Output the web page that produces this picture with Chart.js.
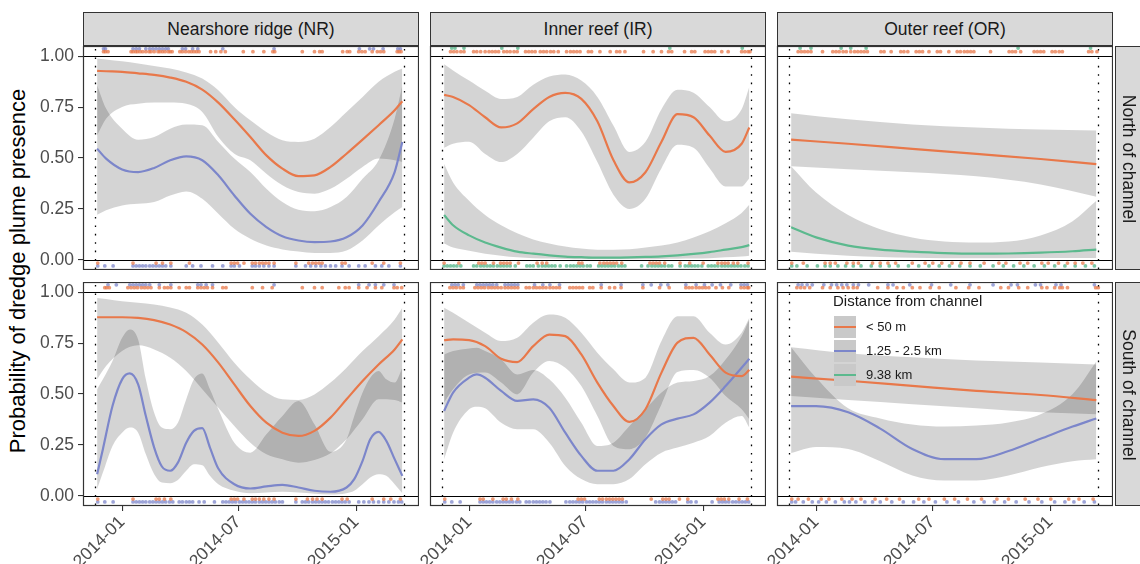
<!DOCTYPE html>
<html>
<head>
<meta charset="utf-8">
<script src="https://cdn.jsdelivr.net/npm/chart.js@4.4.1/dist/chart.umd.min.js"></script>
<style>
  body { margin: 0; width: 1140px; height: 564px; overflow: hidden; background: #fff; position: relative;
         font-family: "Liberation Sans", Arial, sans-serif; }
  canvas { position: absolute; }
  .strip { position: absolute; box-sizing: border-box; background: #d9d9d9; border: 1px solid #333;
           color: #1a1a1a; font-size: 17.5px; text-align: center; }
  .vtext { position: absolute; white-space: nowrap; transform: rotate(90deg); text-align: center; }
  #ytitle { position: absolute; left: -232px; top: 259px; width: 500px; text-align: center;
            font-size: 22px; line-height: 24px; transform: rotate(-90deg); color: #000; }
  .lgkey { position: absolute; width: 22px; height: 22px; background: #c9c9c9; }
  .lgkey i { position: absolute; left: 0; right: 0; top: 10px; height: 2px; }
  .lglab { position: absolute; font-size: 13px; color: #1a1a1a; }
</style>
</head>
<body>
<div id="ytitle">Probability of dredge plume presence</div>
<div id="frame"></div>
<script>
// facets and axes
const regions = ['Nearshore ridge (NR)', 'Inner reef (IR)', 'Outer reef (OR)'];
const sides = ['North of channel', 'South of channel'];
const groupLabels = ['< 50 m', '1.25 - 2.5 km', '9.38 km'];
const groupColors = ['#e8784a', '#7c86ca', '#5cb98e'];
const rugColors = ['rgba(232,120,74,0.75)', 'rgba(124,134,202,0.75)', 'rgba(92,185,142,0.8)'];

// x values are days since 2014-01-01
const xMinDay = -61, xMaxDay = 463;
const xTickDays = [0, 181, 365];
const xTickLabels = ['2014-01', '2014-07', '2015-01'];
const yTicks = [0, 0.25, 0.5, 0.75, 1];
const dredgeStart = -43, dredgeEnd = 439;

// curve grids
const gridDays = [-39, -25, 0, 25, 50, 75, 100, 125, 150, 175, 200, 225, 250, 275, 300, 325, 350, 375, 400, 425, 437];
const fineDays = [-39, -30, -15, 0, 12, 25, 37, 50, 62, 75, 87, 100, 112, 125, 137, 150, 175, 200, 225, 250, 275, 300, 325, 350, 362, 375, 387, 400, 412, 425, 437];
const irSouthMidDays = [-39, -25, 0, 12, 25, 50, 75, 100, 125, 150, 175, 200, 225, 250, 275, 300, 325, 350, 375, 400, 425, 437];
const orLineDays = [-39, 50, 150, 250, 350, 437];
const orCurveDays = [-39, 0, 50, 100, 150, 200, 250, 300, 350, 400, 437];

// NR north
const nrNorthNearFit = [0.928, 0.926, 0.923, 0.916, 0.908, 0.895, 0.874, 0.836, 0.772, 0.690, 0.603, 0.513, 0.448, 0.411, 0.415, 0.456, 0.521, 0.590, 0.661, 0.734, 0.779];
const nrNorthNearHi = [0.989, 0.984, 0.975, 0.964, 0.952, 0.939, 0.920, 0.890, 0.833, 0.751, 0.685, 0.628, 0.587, 0.579, 0.595, 0.652, 0.726, 0.800, 0.874, 0.923, 0.939];
const nrNorthNearLo = [0.611, 0.693, 0.751, 0.766, 0.772, 0.772, 0.766, 0.726, 0.603, 0.521, 0.489, 0.423, 0.366, 0.333, 0.325, 0.349, 0.398, 0.456, 0.497, 0.489, 0.480];
const nrNorthMidFit = [0.546, 0.497, 0.444, 0.431, 0.451, 0.489, 0.508, 0.489, 0.415, 0.316, 0.226, 0.161, 0.116, 0.095, 0.087, 0.090, 0.111, 0.169, 0.284, 0.431, 0.579];
const nrNorthMidHi = [0.857, 0.743, 0.644, 0.590, 0.603, 0.644, 0.664, 0.661, 0.579, 0.497, 0.431, 0.349, 0.284, 0.246, 0.239, 0.259, 0.308, 0.398, 0.489, 0.693, 0.857];
const nrNorthMidLo = [0.221, 0.243, 0.267, 0.275, 0.284, 0.316, 0.336, 0.300, 0.226, 0.152, 0.103, 0.070, 0.051, 0.041, 0.034, 0.034, 0.046, 0.095, 0.169, 0.234, 0.259];

// NR south
const nrSouthNearFit = [0.877, 0.877, 0.877, 0.874, 0.863, 0.841, 0.804, 0.743, 0.654, 0.547, 0.441, 0.359, 0.310, 0.294, 0.319, 0.384, 0.474, 0.564, 0.645, 0.719, 0.768];
const nrSouthNearHi = [0.972, 0.967, 0.956, 0.948, 0.940, 0.925, 0.899, 0.841, 0.752, 0.654, 0.572, 0.507, 0.474, 0.471, 0.498, 0.556, 0.629, 0.711, 0.784, 0.866, 0.923];
const nrSouthNearLo = [0.572, 0.637, 0.711, 0.739, 0.719, 0.678, 0.613, 0.523, 0.433, 0.343, 0.261, 0.204, 0.180, 0.163, 0.176, 0.209, 0.278, 0.376, 0.474, 0.471, 0.458];
const nrSouthMidFit = [0.106, 0.229, 0.441, 0.572, 0.601, 0.547, 0.392, 0.237, 0.144, 0.123, 0.163, 0.261, 0.319, 0.332, 0.237, 0.134, 0.057, 0.036, 0.046, 0.054, 0.041, 0.025, 0.020, 0.041, 0.082, 0.172, 0.278, 0.314, 0.270, 0.180, 0.098];
const nrSouthMidHi = [0.523, 0.572, 0.662, 0.776, 0.817, 0.768, 0.572, 0.408, 0.335, 0.327, 0.359, 0.474, 0.572, 0.601, 0.523, 0.425, 0.261, 0.212, 0.302, 0.392, 0.466, 0.351, 0.216, 0.278, 0.392, 0.507, 0.580, 0.613, 0.572, 0.556, 0.629];
const nrSouthMidLo = [0.033, 0.114, 0.245, 0.310, 0.335, 0.310, 0.204, 0.106, 0.065, 0.062, 0.078, 0.123, 0.155, 0.150, 0.098, 0.057, 0.025, 0.013, 0.016, 0.020, 0.016, 0.010, 0.007, 0.013, 0.025, 0.057, 0.090, 0.106, 0.098, 0.057, 0.013];

// IR north
const irNorthNearFit = [0.81, 0.80, 0.76, 0.70, 0.65, 0.67, 0.74, 0.80, 0.82, 0.79, 0.68, 0.49, 0.38, 0.43, 0.58, 0.715, 0.70, 0.61, 0.53, 0.57, 0.65];
const irNorthNearHi = [0.96, 0.93, 0.88, 0.83, 0.79, 0.80, 0.86, 0.90, 0.91, 0.88, 0.80, 0.66, 0.53, 0.58, 0.74, 0.835, 0.82, 0.75, 0.68, 0.74, 0.85];
const irNorthNearLo = [0.55, 0.57, 0.58, 0.52, 0.48, 0.52, 0.60, 0.68, 0.70, 0.63, 0.48, 0.32, 0.25, 0.30, 0.45, 0.565, 0.55, 0.45, 0.36, 0.36, 0.40];
const irNorthFarFit = [0.22, 0.17, 0.12, 0.085, 0.06, 0.04, 0.03, 0.022, 0.016, 0.013, 0.011, 0.011, 0.012, 0.014, 0.017, 0.022, 0.029, 0.038, 0.05, 0.062, 0.072];
const irNorthFarHi = [0.47, 0.38, 0.29, 0.22, 0.17, 0.13, 0.10, 0.08, 0.065, 0.055, 0.05, 0.05, 0.052, 0.06, 0.07, 0.085, 0.11, 0.14, 0.18, 0.23, 0.27];
const irNorthFarLo = [0.08, 0.06, 0.045, 0.03, 0.02, 0.012, 0.008, 0.006, 0.004, 0.003, 0.003, 0.003, 0.003, 0.003, 0.004, 0.005, 0.006, 0.008, 0.012, 0.016, 0.02];

// IR south
const irSouthNearFit = [0.765, 0.768, 0.765, 0.735, 0.673, 0.657, 0.735, 0.792, 0.784, 0.694, 0.556, 0.441, 0.363, 0.425, 0.605, 0.752, 0.776, 0.694, 0.605, 0.588, 0.618];
const irSouthNearHi = [0.923, 0.899, 0.850, 0.801, 0.760, 0.776, 0.850, 0.890, 0.874, 0.801, 0.703, 0.621, 0.556, 0.580, 0.760, 0.882, 0.882, 0.801, 0.743, 0.801, 0.874];
const irSouthNearLo = [0.458, 0.523, 0.596, 0.605, 0.556, 0.498, 0.605, 0.662, 0.629, 0.539, 0.392, 0.245, 0.229, 0.286, 0.449, 0.608, 0.618, 0.580, 0.490, 0.425, 0.376];
const irSouthMidFit = [0.417, 0.507, 0.580, 0.596, 0.580, 0.515, 0.466, 0.474, 0.433, 0.310, 0.196, 0.123, 0.123, 0.180, 0.278, 0.351, 0.379, 0.400, 0.458, 0.539, 0.629, 0.673];
const irSouthMidHi = [0.694, 0.711, 0.724, 0.727, 0.711, 0.670, 0.596, 0.618, 0.572, 0.482, 0.359, 0.245, 0.261, 0.343, 0.425, 0.507, 0.556, 0.564, 0.588, 0.670, 0.784, 0.866];
const irSouthMidLo = [0.180, 0.310, 0.425, 0.438, 0.430, 0.359, 0.327, 0.327, 0.261, 0.147, 0.082, 0.057, 0.057, 0.082, 0.155, 0.212, 0.237, 0.261, 0.294, 0.359, 0.392, 0.335];

// OR north
const orNorthNearFit = [0.59, 0.57, 0.545, 0.52, 0.495, 0.47];
const orNorthNearHi = [0.72, 0.69, 0.665, 0.65, 0.64, 0.635];
const orNorthNearLo = [0.46, 0.445, 0.43, 0.41, 0.37, 0.31];
const orNorthFarFit = [0.16, 0.11, 0.07, 0.05, 0.04, 0.033, 0.03, 0.031, 0.035, 0.042, 0.05];
const orNorthFarHi = [0.46, 0.33, 0.22, 0.15, 0.11, 0.09, 0.085, 0.09, 0.12, 0.19, 0.29];
const orNorthFarLo = [0.04, 0.03, 0.02, 0.014, 0.01, 0.008, 0.008, 0.008, 0.009, 0.009, 0.009];

// OR south
const orSouthNearFit = [0.585, 0.565, 0.54, 0.515, 0.495, 0.47];
const orSouthNearHi = [0.73, 0.70, 0.68, 0.665, 0.655, 0.645];
const orSouthNearLo = [0.49, 0.47, 0.45, 0.43, 0.41, 0.40];
const orSouthMidFit = [0.44, 0.44, 0.41, 0.33, 0.23, 0.18, 0.18, 0.22, 0.28, 0.34, 0.38];
const orSouthMidHi = [0.73, 0.58, 0.43, 0.38, 0.35, 0.34, 0.345, 0.36, 0.40, 0.50, 0.66];
const orSouthMidLo = [0.21, 0.24, 0.23, 0.17, 0.10, 0.075, 0.075, 0.10, 0.14, 0.17, 0.18];

// observation days: plume present (top rug) / absent (bottom rug)
const nrNorthNearOn = [-29, -26, -22, 14, 17, 21, 24, 28, 32, 37, 42, 45, 50, 56, 59, 63, 67, 72, 75, 78, 90, 94, 99, 104, 108, 112, 116, 120, 138, 146, 154, 161, 189, 204, 221, 235, 238, 281, 300, 308, 312, 344, 351, 355, 369, 374, 379, 390, 398, 403, 408, 429, 432, 435];
const nrNorthMidOn = [-29, -26, 17, 22, 27, 37, 43, 48, 53, 58, 63, 68, 72, 94, 99, 110, 118, 157, 237, 370, 386, 392, 407, 430, 434];
const nrNorthNearOff = [-38, 17, 53, 63, 76, 105, 170, 175, 180, 190, 203, 208, 214, 219, 224, 229, 237, 271, 291, 297, 302, 307, 312, 343, 348, 390, 408, 434];
const nrNorthMidOff = [-38, -27, -14, 17, 22, 27, 32, 37, 43, 48, 53, 58, 63, 68, 76, 100, 110, 123, 141, 157, 170, 175, 183, 203, 208, 214, 221, 229, 237, 271, 286, 294, 302, 310, 317, 325, 333, 343, 354, 369, 379, 395, 405, 416, 434];
const nrSouthNearOn = [-27, -24, -20, 9, 14, 19, 24, 30, 35, 40, 45, 58, 66, 71, 76, 89, 100, 105, 118, 123, 128, 133, 141, 157, 162, 203, 219, 234, 281, 300, 312, 338, 348, 354, 369, 382, 395, 405, 424, 429, 436];
const nrSouthMidOn = [-22, -9, 12, 17, 22, 27, 32, 37, 43, 58, 76, 118, 123, 131, 141, 237, 369, 385, 395, 408, 424];
const nrSouthNearOff = [-38, 17, 53, 58, 66, 76, 170, 175, 180, 190, 203, 208, 214, 221, 229, 237, 271, 289, 297, 304, 312, 343, 351, 390, 408, 419, 434];
const nrSouthMidOff = [-38, -27, -14, 17, 22, 27, 32, 37, 43, 48, 53, 58, 63, 68, 74, 79, 89, 94, 100, 105, 110, 120, 128, 144, 157, 162, 167, 172, 177, 183, 188, 193, 198, 203, 208, 214, 219, 224, 229, 234, 239, 245, 250, 271, 281, 286, 291, 297, 302, 307, 312, 317, 322, 328, 333, 338, 343, 348, 354, 369, 377, 385, 392, 400, 408, 416, 424, 431, 436];
const irNorthNearOn = [-29, -24, -19, -13, -8, 7, 12, 18, 25, 31, 36, 41, 46, 54, 59, 64, 70, 75, 88, 93, 98, 103, 111, 116, 121, 127, 132, 139, 152, 158, 163, 168, 173, 186, 191, 204, 220, 230, 235, 243, 272, 287, 300, 311, 316, 336, 347, 352, 368, 373, 378, 383, 394, 404, 425, 430, 435, 438];
const irNorthFarOn = [-27, -22, -8, 51, 76, 313, 426];
const irNorthNearOff = [-39, -16, 15, 20, 25, 38, 49, 54, 59, 64, 77, 106, 114, 121, 171, 176, 204, 210, 215, 220, 225, 230, 238, 282, 287, 292, 297, 305, 329, 344, 365, 388, 394, 399, 404, 412, 419, 435];
const irNorthFarOff = [-39, -34, -29, -24, -19, -13, 7, 12, 18, 23, 28, 33, 38, 44, 49, 54, 59, 64, 72, 90, 95, 100, 108, 114, 119, 124, 129, 134, 142, 152, 158, 163, 168, 173, 178, 184, 189, 202, 207, 212, 217, 222, 227, 233, 238, 243, 269, 279, 285, 290, 295, 300, 305, 311, 316, 329, 337, 342, 347, 352, 357, 363, 373, 378, 383, 388, 394, 399, 404, 409, 414, 419, 424, 430, 435];
const irSouthNearOn = [-30, -25, -20, -14, -9, 9, 14, 19, 24, 30, 35, 40, 45, 50, 56, 61, 66, 71, 76, 89, 94, 100, 105, 110, 115, 120, 126, 131, 136, 141, 157, 162, 167, 172, 177, 188, 193, 206, 219, 227, 237, 271, 297, 312, 338, 343, 348, 354, 359, 364, 369, 374, 385, 395, 405, 424, 429, 434, 436];
const irSouthMidOn = [-27, -22, -17, -9, 12, 17, 22, 27, 32, 37, 43, 56, 61, 66, 71, 76, 102, 115, 126, 141, 206, 237, 271, 284, 299, 310, 338, 354, 367, 379, 392, 408, 424, 429, 434];
const irSouthNearOff = [-38, 17, 22, 37, 53, 58, 66, 76, 170, 175, 180, 203, 208, 214, 219, 224, 229, 234, 239, 284, 302, 307, 312, 328, 341, 388, 393, 398, 405, 421, 434];
const irSouthMidOff = [-38, -27, -14, 17, 22, 27, 32, 37, 43, 48, 53, 58, 63, 68, 74, 79, 89, 94, 100, 105, 110, 115, 120, 126, 151, 157, 162, 167, 172, 177, 183, 188, 193, 198, 203, 208, 214, 219, 224, 229, 234, 239, 245, 291, 297, 302, 307, 312, 317, 322, 341, 346, 354, 379, 390, 395, 400, 405, 411, 416, 421, 426, 431, 436];
const orNorthNearOn = [-28, -23, -18, -13, -8, 10, 26, 31, 36, 42, 47, 54, 60, 65, 70, 75, 80, 101, 106, 117, 132, 137, 143, 156, 161, 166, 176, 189, 194, 207, 220, 225, 231, 236, 241, 246, 272, 301, 306, 311, 319, 340, 345, 350, 355, 368, 373, 379, 384, 425, 430, 438];
const orNorthFarOn = [-25, -8, 39, 54, 78, 315, 428];
const orNorthNearOff = [-38, -20, 14, 22, 30, 48, 58, 66, 88, 100, 112, 124, 150, 170, 182, 196, 212, 226, 240, 262, 285, 296, 318, 330, 352, 362, 378, 392, 404, 416, 430];
const orNorthFarOff = [-38, -30, -14, 2, 14, 22, 34, 46, 58, 70, 86, 100, 114, 128, 144, 160, 176, 192, 208, 224, 240, 256, 276, 292, 308, 324, 340, 356, 372, 388, 404, 420, 434];
const orSouthNearOn = [-30, -24, -18, -10, 10, 22, 34, 42, 50, 58, 64, 96, 112, 126, 136, 150, 162, 178, 192, 218, 238, 254, 288, 300, 316, 330, 352, 360, 372, 380, 384, 392, 436, 440];
const orSouthMidOn = [-28, -22, -14, -6, 12, 24, 32, 40, 48, 58, 66, 82, 112, 120, 146, 180, 210, 240, 276, 304, 314, 342, 350, 374, 382, 434];
const orSouthNearOff = [-38, -28, -12, 8, 20, 40, 56, 70, 92, 110, 130, 160, 176, 200, 216, 236, 258, 282, 300, 326, 346, 366, 394, 410, 432];
const orSouthMidOff = [-38, -32, -20, -6, 4, 16, 30, 44, 52, 62, 76, 88, 100, 118, 136, 152, 168, 186, 204, 222, 246, 262, 278, 294, 312, 332, 352, 372, 388, 402, 418, 434];

// layout (px)
const colLeft = [83, 430, 777];
const rowTop = [46, 282];
const panelW = 336, panelH = 224;
const axisW = 53, axisH = 58;
const family = '"Liberation Sans", Arial, sans-serif';
const ribbonFill = 'rgba(0,0,0,0.17)';

const panels = [
  { row: 0, col: 0,
    curves: [[gridDays, nrNorthNearFit, nrNorthNearLo, nrNorthNearHi, 0], [gridDays, nrNorthMidFit, nrNorthMidLo, nrNorthMidHi, 1]],
    rugs: [[nrNorthNearOn, nrNorthNearOff, 0], [nrNorthMidOn, nrNorthMidOff, 1]] },
  { row: 0, col: 1,
    curves: [[gridDays, irNorthNearFit, irNorthNearLo, irNorthNearHi, 0], [gridDays, irNorthFarFit, irNorthFarLo, irNorthFarHi, 2]],
    rugs: [[irNorthNearOn, irNorthNearOff, 0], [irNorthFarOn, irNorthFarOff, 2]] },
  { row: 0, col: 2,
    curves: [[orLineDays, orNorthNearFit, orNorthNearLo, orNorthNearHi, 0], [orCurveDays, orNorthFarFit, orNorthFarLo, orNorthFarHi, 2]],
    rugs: [[orNorthNearOn, orNorthNearOff, 0], [orNorthFarOn, orNorthFarOff, 2]] },
  { row: 1, col: 0,
    curves: [[gridDays, nrSouthNearFit, nrSouthNearLo, nrSouthNearHi, 0], [fineDays, nrSouthMidFit, nrSouthMidLo, nrSouthMidHi, 1]],
    rugs: [[nrSouthNearOn, nrSouthNearOff, 0], [nrSouthMidOn, nrSouthMidOff, 1]] },
  { row: 1, col: 1,
    curves: [[gridDays, irSouthNearFit, irSouthNearLo, irSouthNearHi, 0], [irSouthMidDays, irSouthMidFit, irSouthMidLo, irSouthMidHi, 1]],
    rugs: [[irSouthNearOn, irSouthNearOff, 0], [irSouthMidOn, irSouthMidOff, 1]] },
  { row: 1, col: 2,
    curves: [[orLineDays, orSouthNearFit, orSouthNearLo, orSouthNearHi, 0], [orCurveDays, orSouthMidFit, orSouthMidLo, orSouthMidHi, 1]],
    rugs: [[orSouthNearOn, orSouthNearOff, 0], [orSouthMidOn, orSouthMidOff, 1]] },
];

// rug heights per group (slight vertical offsets like the original)
const rugTopY = [1.022, 1.036, 1.04];
const rugBottomY = [-0.016, -0.03, -0.03];

const pts = (days, vals) => days.map((d, i) => ({ x: d, y: vals[i] }));

// panel box, reference lines at 0 and 1, dotted dredging period
const panelDecor = {
  id: 'panelDecor',
  afterDatasetsDraw(chart) {
    const { ctx, chartArea: a, scales: { x, y } } = chart;
    ctx.save();
    ctx.strokeStyle = '#000';
    ctx.lineWidth = 1;
    [0, 1].forEach(v => {
      const py = Math.round(y.getPixelForValue(v)) + 0.5;
      ctx.beginPath(); ctx.moveTo(a.left, py); ctx.lineTo(a.right, py); ctx.stroke();
    });
    ctx.setLineDash([1.6, 6.8]);
    ctx.lineWidth = 1.3;
    [dredgeStart, dredgeEnd].forEach(d => {
      const px = Math.round(x.getPixelForValue(d)) + 0.5;
      ctx.beginPath(); ctx.moveTo(px, a.top + 3); ctx.lineTo(px, a.bottom); ctx.stroke();
    });
    ctx.setLineDash([]);
    ctx.strokeStyle = '#333';
    ctx.lineWidth = 1.2;
    ctx.strokeRect(a.left + 0.5, a.top + 0.5, a.width - 1, a.height - 1);
    ctx.restore();
  }
};

const noPad = s => { s.paddingLeft = 0; s.paddingRight = 0; s.paddingTop = 0; s.paddingBottom = 0; };
const frame = document.getElementById('frame');

panels.forEach(p => {
  const showY = p.col === 0, showX = p.row === 1;
  const cv = document.createElement('canvas');
  cv.width = axisW + panelW;
  cv.height = panelH + (showX ? axisH : 0);
  cv.style.left = (colLeft[p.col] - axisW) + 'px';
  cv.style.top = rowTop[p.row] + 'px';
  frame.appendChild(cv);

  const datasets = [];
  p.curves.forEach(([days, fit, lo, hi, g]) => {
    datasets.push({ data: pts(days, lo), borderWidth: 0, pointRadius: 0, fill: false, order: 10, cubicInterpolationMode: 'monotone' });
    datasets.push({ data: pts(days, hi), borderWidth: 0, pointRadius: 0, fill: '-1', backgroundColor: ribbonFill, order: 10, cubicInterpolationMode: 'monotone' });
  });
  p.rugs.forEach(([on, off, g]) => {
    datasets.push({ type: 'scatter', data: on.map(d => ({ x: d, y: rugTopY[g] })), pointRadius: 1.9, borderWidth: 0, backgroundColor: rugColors[g], order: 5 });
    datasets.push({ type: 'scatter', data: off.map(d => ({ x: d, y: rugBottomY[g] })), pointRadius: 1.9, borderWidth: 0, backgroundColor: rugColors[g], order: 5 });
  });
  p.curves.forEach(([days, fit, lo, hi, g]) => {
    datasets.push({ data: pts(days, fit), borderColor: groupColors[g], borderWidth: 2.2, pointRadius: 0, fill: false, order: 1, cubicInterpolationMode: 'monotone' });
  });

  new Chart(cv, {
    type: 'line',
    data: { datasets },
    options: {
      responsive: false,
      maintainAspectRatio: false,
      animation: false,
      events: [],
      layout: { autoPadding: false, padding: { left: showY ? 0 : axisW, top: 0, right: 0, bottom: 0 } },
      plugins: { legend: { display: false }, tooltip: { enabled: false } },
      scales: {
        x: {
          type: 'linear', min: xMinDay, max: xMaxDay, display: showX,
          afterBuildTicks: s => { s.ticks = xTickDays.map(v => ({ value: v })); },
          afterFit: s => { s.height = showX ? axisH : 0; noPad(s); },
          grid: { drawOnChartArea: false, drawTicks: true, tickLength: 5, color: '#333', lineWidth: 1.1 },
          border: { display: false },
          ticks: { autoSkip: false, minRotation: 45, maxRotation: 45, padding: 1, color: '#4d4d4d',
                   font: { size: 17.5, family }, callback: v => xTickLabels[xTickDays.indexOf(v)] }
        },
        y: {
          type: 'linear', min: -0.05, max: 1.05, display: showY,
          afterBuildTicks: s => { s.ticks = yTicks.map(v => ({ value: v })); },
          afterFit: s => { s.width = showY ? axisW : 0; noPad(s); },
          grid: { drawOnChartArea: false, drawTicks: true, tickLength: 5, color: '#333', lineWidth: 1.1 },
          border: { display: false },
          ticks: { padding: 4, color: '#4d4d4d', font: { size: 17.5, family }, callback: v => v.toFixed(2) }
        }
      }
    },
    plugins: [panelDecor]
  });
});

// strips
regions.forEach((name, c) => {
  const s = document.createElement('div');
  s.className = 'strip';
  Object.assign(s.style, { left: colLeft[c] + 'px', top: '12px', width: panelW + 'px', height: '34px', lineHeight: '32px' });
  s.textContent = name;
  document.body.appendChild(s);
});
sides.forEach((name, r) => {
  const s = document.createElement('div');
  s.className = 'strip';
  Object.assign(s.style, { left: '1115px', top: rowTop[r] + 'px', width: '30px', height: panelH + 'px' });
  const t = document.createElement('div');
  t.className = 'vtext';
  Object.assign(t.style, { width: panelH + 'px', height: '22px', lineHeight: '22px',
                           left: (13 - panelH / 2) + 'px', top: (panelH / 2 - 11) + 'px' });
  t.textContent = name;
  s.appendChild(t);
  document.body.appendChild(s);
});

// legend inside the OR south panel
const lgLeft = 833, lgTop = 292;
const lgTitle = document.createElement('div');
Object.assign(lgTitle.style, { position: 'absolute', left: lgLeft + 'px', top: lgTop + 'px', fontSize: '15px', color: '#1a1a1a', whiteSpace: 'nowrap' });
lgTitle.textContent = 'Distance from channel';
document.body.appendChild(lgTitle);
groupLabels.forEach((lab, i) => {
  const k = document.createElement('div');
  k.className = 'lgkey';
  Object.assign(k.style, { left: (lgLeft + 1) + 'px', top: (lgTop + 24 + i * 24) + 'px' });
  const line = document.createElement('i');
  line.style.background = groupColors[i];
  k.appendChild(line);
  document.body.appendChild(k);
  const l = document.createElement('div');
  l.className = 'lglab';
  Object.assign(l.style, { left: (lgLeft + 33) + 'px', top: (lgTop + 27 + i * 24) + 'px' });
  l.textContent = lab;
  document.body.appendChild(l);
});
</script>
</body>
</html>
